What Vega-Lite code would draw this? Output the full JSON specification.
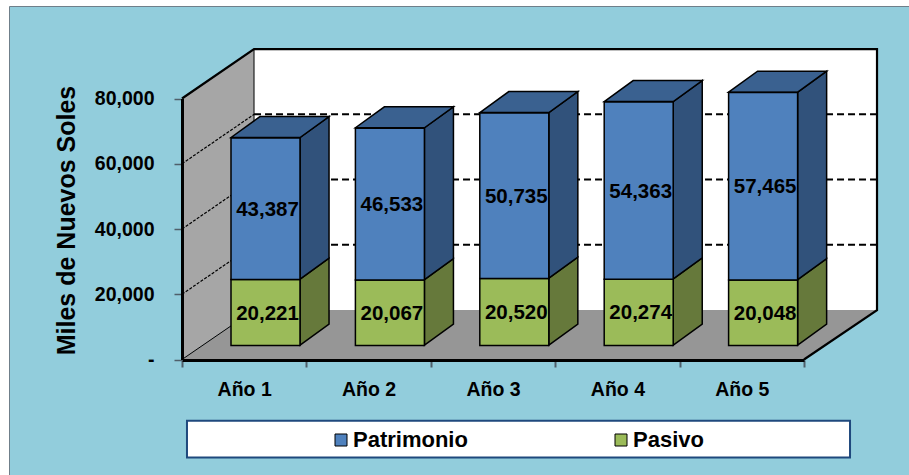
{
"$schema":"https://vega.github.io/schema/vega-lite/v6.json",
"width":900,"height":469,
"autosize":{"type":"none"},
"padding":{"left":9,"top":6,"right":0,"bottom":0},
"background":"#ffffff",
"view":{"fill":"#92CDDC","stroke":"#6f7f8a","strokeWidth":1},
"config":{"font":"Liberation Sans"},
"datasets":{
"valores":[
{"ano":"Año 1","serie":"Pasivo","valor":20221},{"ano":"Año 1","serie":"Patrimonio","valor":43387},
{"ano":"Año 2","serie":"Pasivo","valor":20067},{"ano":"Año 2","serie":"Patrimonio","valor":46533},
{"ano":"Año 3","serie":"Pasivo","valor":20520},{"ano":"Año 3","serie":"Patrimonio","valor":50735},
{"ano":"Año 4","serie":"Pasivo","valor":20274},{"ano":"Año 4","serie":"Patrimonio","valor":54363},
{"ano":"Año 5","serie":"Pasivo","valor":20048},{"ano":"Año 5","serie":"Patrimonio","valor":57465}],
"planos":[
{"cara":"fondo","pos":0.579,"v":15138,"v2":95138},{"cara":"fondo","pos":5.587,"v":15138,"v2":95138},
{"cara":"pared","pos":0,"v":0,"v2":80000},{"cara":"pared","pos":0.579,"v":15138,"v2":95138},
{"cara":"piso","pos":0,"v":0,"v2":0},{"cara":"piso","pos":0.579,"v":15138,"v2":0},{"cara":"piso","pos":5,"v":15138,"v2":0},{"cara":"piso","pos":5.587,"v":15138,"v2":15138}],
"caras":[
{"cara":"ladoPasivo","ano":"1","pos":0.949,"v":4434,"v2":24655},{"cara":"ladoPasivo","ano":"1","pos":1.182,"v":10856,"v2":31077},
{"cara":"ladoPasivo","ano":"2","pos":1.949,"v":4434,"v2":24501},{"cara":"ladoPasivo","ano":"2","pos":2.182,"v":10856,"v2":30923},
{"cara":"ladoPasivo","ano":"3","pos":2.949,"v":4434,"v2":24954},{"cara":"ladoPasivo","ano":"3","pos":3.182,"v":10856,"v2":31376},
{"cara":"ladoPasivo","ano":"4","pos":3.949,"v":4434,"v2":24708},{"cara":"ladoPasivo","ano":"4","pos":4.182,"v":10856,"v2":31130},
{"cara":"ladoPasivo","ano":"5","pos":4.949,"v":4434,"v2":24482},{"cara":"ladoPasivo","ano":"5","pos":5.182,"v":10856,"v2":30904},
{"cara":"ladoPatrimonio","ano":"1","pos":0.949,"v":24655,"v2":68042},{"cara":"ladoPatrimonio","ano":"1","pos":1.182,"v":31077,"v2":74464},
{"cara":"ladoPatrimonio","ano":"2","pos":1.949,"v":24501,"v2":71034},{"cara":"ladoPatrimonio","ano":"2","pos":2.182,"v":30923,"v2":77456},
{"cara":"ladoPatrimonio","ano":"3","pos":2.949,"v":24954,"v2":75689},{"cara":"ladoPatrimonio","ano":"3","pos":3.182,"v":31376,"v2":82111},
{"cara":"ladoPatrimonio","ano":"4","pos":3.949,"v":24708,"v2":79071},{"cara":"ladoPatrimonio","ano":"4","pos":4.182,"v":31130,"v2":85493},
{"cara":"ladoPatrimonio","ano":"5","pos":4.949,"v":24482,"v2":81947},{"cara":"ladoPatrimonio","ano":"5","pos":5.182,"v":30904,"v2":88369},
{"cara":"tapa","ano":"1","pos":0.394,"v":68042,"v2":68042},{"cara":"tapa","ano":"1","pos":0.627,"v":74464,"v2":68042},{"cara":"tapa","ano":"1","pos":0.949,"v":74464,"v2":68042},{"cara":"tapa","ano":"1","pos":1.182,"v":74464,"v2":74464},
{"cara":"tapa","ano":"2","pos":1.394,"v":71034,"v2":71034},{"cara":"tapa","ano":"2","pos":1.627,"v":77456,"v2":71034},{"cara":"tapa","ano":"2","pos":1.949,"v":77456,"v2":71034},{"cara":"tapa","ano":"2","pos":2.182,"v":77456,"v2":77456},
{"cara":"tapa","ano":"3","pos":2.394,"v":75689,"v2":75689},{"cara":"tapa","ano":"3","pos":2.627,"v":82111,"v2":75689},{"cara":"tapa","ano":"3","pos":2.949,"v":82111,"v2":75689},{"cara":"tapa","ano":"3","pos":3.182,"v":82111,"v2":82111},
{"cara":"tapa","ano":"4","pos":3.394,"v":79071,"v2":79071},{"cara":"tapa","ano":"4","pos":3.627,"v":85493,"v2":79071},{"cara":"tapa","ano":"4","pos":3.949,"v":85493,"v2":79071},{"cara":"tapa","ano":"4","pos":4.182,"v":85493,"v2":85493},
{"cara":"tapa","ano":"5","pos":4.394,"v":81947,"v2":81947},{"cara":"tapa","ano":"5","pos":4.627,"v":88369,"v2":81947},{"cara":"tapa","ano":"5","pos":4.949,"v":88369,"v2":81947},{"cara":"tapa","ano":"5","pos":5.182,"v":88369,"v2":88369}],
"lineas":[
{"tipo":"rejillaFondo","id":"20","orden":1,"pos":0.579,"v":35138},{"tipo":"rejillaFondo","id":"20","orden":2,"pos":5.587,"v":35138},
{"tipo":"rejillaFondo","id":"40","orden":1,"pos":0.579,"v":55138},{"tipo":"rejillaFondo","id":"40","orden":2,"pos":5.587,"v":55138},
{"tipo":"rejillaFondo","id":"60","orden":1,"pos":0.579,"v":75138},{"tipo":"rejillaFondo","id":"60","orden":2,"pos":5.587,"v":75138},
{"tipo":"rejillaPared","id":"20","orden":1,"pos":0,"v":20000},{"tipo":"rejillaPared","id":"20","orden":2,"pos":0.579,"v":35138},
{"tipo":"rejillaPared","id":"40","orden":1,"pos":0,"v":40000},{"tipo":"rejillaPared","id":"40","orden":2,"pos":0.579,"v":55138},
{"tipo":"rejillaPared","id":"60","orden":1,"pos":0,"v":60000},{"tipo":"rejillaPared","id":"60","orden":2,"pos":0.579,"v":75138},
{"tipo":"fino","id":"esquina","orden":1,"pos":0.579,"v":15138},{"tipo":"fino","id":"esquina","orden":2,"pos":0.579,"v":95138},
{"tipo":"fino","id":"zocalo","orden":1,"pos":0,"v":0},{"tipo":"fino","id":"zocalo","orden":2,"pos":0.579,"v":15138},
{"tipo":"grueso","id":"borde","orden":1,"pos":0,"v":80000},{"tipo":"grueso","id":"borde","orden":2,"pos":0.579,"v":95138},{"tipo":"grueso","id":"borde","orden":3,"pos":5.587,"v":95138},{"tipo":"grueso","id":"borde","orden":4,"pos":5.587,"v":15138},{"tipo":"grueso","id":"borde","orden":5,"pos":5,"v":0}],
"caja":[{"pos":0.04,"pos2":5.37,"v":-18807,"v2":-30031}]
},
"data":{"name":"valores"},
"resolve":{"scale":{"x":"independent"}},
"layer":[
{
"encoding":{
"x":{"field":"pos","type":"quantitative","axis":null,"scale":{"domain":[-1.3907,5.8441],"range":[0,900],"nice":false,"zero":false}},
"y":{"field":"v","type":"quantitative","stack":null,"scale":{"domain":[0,80000],"range":[353.5,92.5],"nice":false,"zero":false},
 "axis":{"orient":"left","offset":-173,"values":[0,20000,40000,60000,80000],"labelExpr":"datum.value===0?'-\u00a0\u00a0':format(datum.value,',.0f')","grid":false,"zindex":1,"domainColor":"#000000","domainWidth":3,"tickColor":"#4f5f6a","tickWidth":1.5,"tickSize":8,"labelFontSize":19.5,"labelFontWeight":"bold","labelColor":"#000000","labelPadding":20,"labelFont":"Liberation Sans","title":"Miles de Nuevos Soles","titleFontSize":25,"titleFontWeight":"bold","titleColor":"#000000","titleFont":"Liberation Sans","titleX":-103,"titleY":214}}
},
"layer":[
{"data":{"name":"caja"},"mark":{"type":"rect","fill":"#ffffff","stroke":"#1F497D","strokeWidth":2},
 "encoding":{"x2":{"field":"pos2"},"y2":{"field":"v2"}}},
{"data":{"name":"planos"},"transform":[{"filter":"datum.cara==='fondo'"}],"mark":{"type":"area","orient":"vertical","fill":"#ffffff"},"encoding":{"y2":{"field":"v2"}}},
{"data":{"name":"planos"},"transform":[{"filter":"datum.cara==='pared'"}],"mark":{"type":"area","orient":"vertical","fill":"#A6A6A6"},"encoding":{"y2":{"field":"v2"}}},
{"data":{"name":"planos"},"transform":[{"filter":"datum.cara==='piso'"}],"mark":{"type":"area","orient":"vertical","fill":"#969696"},"encoding":{"y2":{"field":"v2"}}},
{"data":{"name":"lineas"},"transform":[{"filter":"datum.tipo==='rejillaFondo'"}],"mark":{"type":"line","color":"#000000","strokeWidth":2,"strokeDash":[7,4]},"encoding":{"detail":{"field":"id"},"order":{"field":"orden"}}},
{"data":{"name":"lineas"},"transform":[{"filter":"datum.tipo==='rejillaPared'"}],"mark":{"type":"line","color":"#000000","strokeWidth":1.2,"strokeDash":[3,1.5]},"encoding":{"detail":{"field":"id"},"order":{"field":"orden"}}},
{"data":{"name":"lineas"},"transform":[{"filter":"datum.tipo==='fino'"}],"mark":{"type":"line","color":"#000000","strokeWidth":1},"encoding":{"detail":{"field":"id"},"order":{"field":"orden"}}},
{"data":{"name":"lineas"},"transform":[{"filter":"datum.tipo==='grueso'"}],"mark":{"type":"line","color":"#000000","strokeWidth":2.2},"encoding":{"detail":{"field":"id"},"order":{"field":"orden"}}},
{"data":{"name":"caras"},"transform":[{"filter":"datum.cara==='ladoPasivo'"}],"mark":{"type":"area","orient":"vertical","fill":"#66793B","stroke":"#000000","strokeWidth":1.5},"encoding":{"y2":{"field":"v2"},"detail":{"field":"ano"}}},
{"data":{"name":"caras"},"transform":[{"filter":"datum.cara==='ladoPatrimonio'"}],"mark":{"type":"area","orient":"vertical","fill":"#31527B","stroke":"#000000","strokeWidth":1.5},"encoding":{"y2":{"field":"v2"},"detail":{"field":"ano"}}},
{"data":{"name":"caras"},"transform":[{"filter":"datum.cara==='tapa'"}],"mark":{"type":"area","orient":"vertical","fill":"#3A6190","stroke":"#000000","strokeWidth":1.5},"encoding":{"y2":{"field":"v2"},"detail":{"field":"ano"}}}
]
},
{
"encoding":{
"x":{"field":"ano","type":"nominal","scale":{"type":"band","domain":["Año 1","Año 2","Año 3","Año 4","Año 5"],"range":[173,795],"paddingInner":0,"paddingOuter":0},
 "axis":{"orient":"bottom","offset":-115,"title":null,"labelAngle":0,"tickBand":"extent","zindex":1,"domainColor":"#000000","domainWidth":3,"tickColor":"#4f5f6a","tickWidth":2,"tickSize":7,"labelFontSize":19.5,"labelFontWeight":"bold","labelColor":"#000000","labelPadding":13,"labelFont":"Liberation Sans"}},
"y":{"field":"valor","type":"quantitative","stack":"zero","scale":{"domain":[0,80000],"range":[353.5,92.5],"nice":false,"zero":false}},
"order":{"field":"serie","sort":"ascending"}
},
"layer":[
{"mark":{"type":"bar","width":69,"xOffset":21.3,"x2Offset":21.3,"yOffset":-14,"y2Offset":-14,"stroke":"#000000","strokeWidth":1.5},
 "encoding":{"color":{"field":"serie","type":"nominal","scale":{"domain":["Patrimonio","Pasivo"],"range":["#4F81BD","#9BBB59"]},
  "legend":{"orient":"none","legendX":321,"legendY":423,"direction":"horizontal","columns":2,"title":null,"padding":0,"columnPadding":142,"symbolType":"square","symbolSize":144,"symbolStrokeColor":"#000000","symbolStrokeWidth":1,"labelFontSize":22,"labelFontWeight":"bold","labelColor":"#000000","labelFont":"Liberation Sans","labelOffset":1}}}},
{"mark":{"type":"text","xOffset":23.3,"yOffset":-13,"font":"Liberation Sans","fontSize":20.5,"fontWeight":"bold","color":"#000000"},
 "encoding":{"y":{"field":"valor","type":"quantitative","stack":"zero","bandPosition":0.5,"scale":{"domain":[0,80000],"range":[353.5,92.5],"nice":false,"zero":false}},"text":{"field":"valor","type":"quantitative","format":",.0f"}}}
]
}
]
}
